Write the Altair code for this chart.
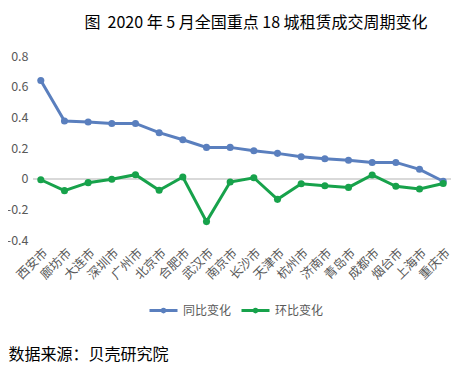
import altair as alt
import pandas as pd

cities = ["西安市", "廊坊市", "大连市", "深圳市", "广州市", "北京市", "合肥市", "武汉市", "南京市",
          "长沙市", "天津市", "杭州市", "济南市", "青岛市", "成都市", "烟台市", "上海市", "重庆市"]
yoy = [0.64, 0.376, 0.369, 0.36, 0.36, 0.30, 0.254, 0.204, 0.204,
       0.182, 0.165, 0.143, 0.13, 0.12, 0.106, 0.106, 0.061, -0.017]
mom = [-0.007, -0.078, -0.026, -0.004, 0.026, -0.076, 0.011, -0.28, -0.022,
       0.006, -0.135, -0.033, -0.046, -0.057, 0.024, -0.05, -0.067, -0.031]
series = ["同比变化", "环比变化"]
colors = ["#5A7FBE", "#17A24B"]
y_ticks = [-0.4, -0.2, 0, 0.2, 0.4, 0.6, 0.8]

rows = []
for i, c in enumerate(cities):
    rows.append({"city": c, "series": series[0], "value": yoy[i], "order": i})
    rows.append({"city": c, "series": series[1], "value": mom[i], "order": i})
df = pd.DataFrame(rows)

FONT = "Noto Sans CJK SC"
sym = "M-1,0 L1,0 M-0.09,0 A0.09,0.09 0 1,1 0.09,0 A0.09,0.09 0 1,1 -0.09,0"

x_enc = alt.X("city:N", sort=cities,
              scale=alt.Scale(type="point", padding=0.33),
              axis=alt.Axis(labelAngle=-45, labelFontSize=12.5, labelColor="#595959",
                            labelPadding=6, ticks=False, domain=False, grid=False,
                            title="数据来源：贝壳研究院", titleX=-25, titleY=114,
                            titleAlign="left", titleBaseline="middle", titleFontSize=16,
                            titleFontWeight="normal", titleColor="#000000", titleFont=FONT))
y_axis = alt.Axis(values=y_ticks, labelExpr="datum.value == 0 ? '0' : toString(datum.value)",
                  labelFontSize=12.5, labelColor="#595959", labelPadding=5,
                  labelOverlap=False, labelFlush=False,
                  ticks=False, domain=False, grid=False, title=None)
y_enc = alt.Y("value:Q", scale=alt.Scale(domain=[-0.4, 0.8], nice=False), axis=y_axis)

lines = alt.Chart(df).mark_line(strokeWidth=3, point=alt.OverlayMarkDef(filled=True, size=50)).encode(
    x=x_enc, y=y_enc,
    color=alt.Color("series:N", scale=alt.Scale(domain=series, range=colors),
                    legend=alt.Legend(title=None, orient="none", legendX=115, legendY=239,
                                      direction="horizontal", symbolType=sym, symbolSize=784,
                                      symbolStrokeWidth=3, labelFontSize=12, labelColor="#595959",
                                      labelOffset=4, columnPadding=3)),
    order="order:Q",
)

zero = alt.Chart(df).mark_rule(color="#D9D9D9", strokeWidth=1).encode(
    y=alt.datum(0, axis=y_axis)
)

chart = alt.layer(zero, lines).properties(
    width=418, height=184,
    autosize=alt.AutoSizeParams(type="none"),
    padding={"left": 25, "top": 48, "right": 2, "bottom": 124},
    title=alt.TitleParams("图\u00a0\u00a02020 年 5 月全国重点 18 城租赁成交周期变化", fontSize=16,
                          fontWeight="normal", color="#000000", font=FONT, anchor="middle",
                          dx=14, offset=6, baseline="alphabetic"),
).configure(font=FONT).configure_view(stroke=None).configure_axis(labelOverlap=False)

chart.save("out.html", embed_options={"renderer": "svg", "actions": False})
